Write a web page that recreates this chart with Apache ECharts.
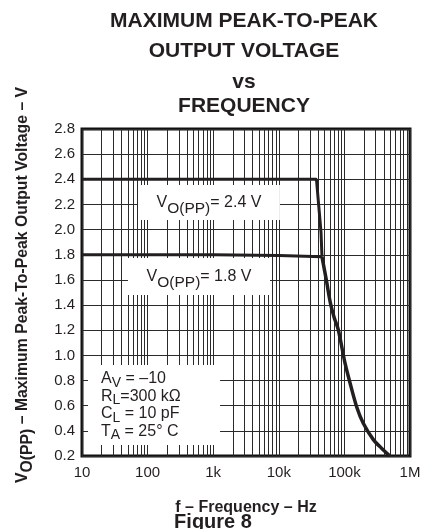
<!DOCTYPE html>
<html><head><meta charset="utf-8">
<script src="https://cdn.jsdelivr.net/npm/echarts/dist/echarts.min.js"></script>
<style>html,body{margin:0;padding:0;background:#fff}#c{width:422px;height:529px}</style>
</head><body><div id="c"></div>
<script>
const titleLines = ['MAXIMUM PEAK-TO-PEAK', 'OUTPUT VOLTAGE', 'vs', 'FREQUENCY'];
const figureLabel = 'Figure 8';
const xTickValues = [10, 100, 1000, 10000, 100000, 1000000];
const xTickLabels = ['10', '100', '1k', '10k', '100k', '1M'];
const upperFreq = [10, 37500, 44000, 45500];
const upperVolt = [2.4, 2.4, 1.98, 1.785];
const lowerFreq = [10, 1000, 10000, 45500];
const lowerVolt = [1.8, 1.8, 1.795, 1.785];
const tailFreq = [45500, 53000, 61000, 70000, 81000, 102000, 122000, 154000, 194000, 276000, 371000, 470000, 490000];
const tailVolt = [1.785, 1.6, 1.42, 1.3, 1.2, 0.94, 0.78, 0.59, 0.46, 0.33, 0.26, 0.21, 0.2];

const FF = '"Liberation Sans", Arial, sans-serif';
const INK = '#231f20';
const pairs = (xs, ys) => xs.map((x, i) => [x, ys[i]]);

const minorX = [];
[10, 100, 1000, 10000, 100000].forEach(d => { for (let m = 2; m <= 9; m++) minorX.push(m * d); });

const subRich = (fs, sfs, lh, pad) => ({
  n: { fontSize: fs, lineHeight: lh, color: INK, fontFamily: FF },
  s: { fontSize: sfs, lineHeight: lh, color: INK, fontFamily: FF, padding: [pad, 0, 0, 0] }
});

const chart = echarts.init(document.getElementById('c'), null, { renderer: 'canvas' });
const titleTops = [21, 51, 82, 106];
const option = {
  animation: false,
  backgroundColor: '#fff',
  title: titleLines.map((t, i) => ({
    text: t, left: 244, top: titleTops[i], textAlign: 'center', textVerticalAlign: 'middle', padding: 0,
    textStyle: { fontSize: 21, fontWeight: 'bold', color: INK, fontFamily: FF }
  })).concat([{
    text: figureLabel, left: 213, top: 522, textAlign: 'center', textVerticalAlign: 'middle', padding: 0,
    textStyle: { fontSize: 20, fontWeight: 'bold', color: INK, fontFamily: FF }
  }]),
  grid: { left: 82, right: 12, top: 129, bottom: 73, show: true, borderColor: '#111', borderWidth: 3, backgroundColor: 'transparent', outerBoundsMode: 'none' },
  xAxis: {
    type: 'log', logBase: 10, min: 10, max: 1000000,
    name: 'f – Frequency – Hz', nameLocation: 'middle', nameGap: 44,
    nameTextStyle: { fontSize: 16, fontWeight: 'bold', color: INK, fontFamily: FF },
    axisLine: { show: false }, axisTick: { show: false },
    axisLabel: { fontSize: 15, color: INK, fontFamily: FF, margin: 9,
      formatter: v => { const i = xTickValues.findIndex(t => Math.abs(t - v) / t < 1e-6); return i >= 0 ? xTickLabels[i] : ''; } },
    splitLine: { show: true, lineStyle: { color: '#2a2a2a', width: 1 } },
    minorSplitLine: { show: false }
  },
  yAxis: {
    type: 'value', min: 0.2, max: 2.8, interval: 0.2,
    axisLine: { show: false }, axisTick: { show: false },
    axisLabel: { fontSize: 15, color: INK, fontFamily: FF, margin: 7, formatter: v => v.toFixed(1) },
    splitLine: { show: true, lineStyle: { color: '#2a2a2a', width: 1 } }
  },
  graphic: [{
    type: 'text', x: 23, y: 285, rotation: Math.PI / 2,
    style: {
      text: '{n|V}{s|O(PP)}{n| – Maximum Peak-To-Peak Output Voltage – V}',
      align: 'center', verticalAlign: 'middle',
      rich: {
        n: { fontSize: 15.8, fontWeight: 'bold', fill: INK, fontFamily: FF, lineHeight: 17 },
        s: { fontSize: 15.8, fontWeight: 'bold', fill: INK, fontFamily: FF, lineHeight: 17, padding: [10, 0, 0, 0] }
      }
    }
  }],
  series: [
    {
      type: 'line', z: 3, data: pairs(lowerFreq, lowerVolt), symbol: 'none',
      lineStyle: { color: INK, width: 3 }, silent: true,
      markLine: {
        z: 1, silent: true, symbol: ['none', 'none'], animation: false,
        label: { show: false }, emphasis: { disabled: true },
        lineStyle: { color: '#2a2a2a', width: 1, type: 'solid' },
        data: minorX.map(v => ({ xAxis: v }))
      },
      markArea: {
        z: 2, silent: true, animation: false,
        itemStyle: { color: '#fff', borderWidth: 0, opacity: 1 },
        emphasis: { disabled: true },
        data: [
          [{ xAxis: 71.5, yAxis: 2.355, label: { show: true, position: 'inside', formatter: '{n|V}{s|O(PP)}{n|= 2.4 V}', rich: subRich(16, 15.5, 17, 12) } },
           { xAxis: 10400, yAxis: 2.076 }],
          [{ xAxis: 50.2, yAxis: 1.774, label: { show: true, position: 'inside', formatter: '{n|V}{s|O(PP)}{n|= 1.8 V}', rich: subRich(16, 15.5, 17, 12) } },
           { xAxis: 7350, yAxis: 1.48 }],
          [{ xAxis: 12.35, yAxis: 0.924, label: { show: true, position: 'insideLeft', distance: 13,
              formatter: '{n|A}{t|V}{n| = –10}\n{n|R}{t|L}{n|=300 kΩ}\n{n|C}{t|L}{n| = 10 pF}\n{n|T}{t|A}{n| = 25° C}',
              rich: {
                n: { fontSize: 16, lineHeight: 17.5, color: INK, fontFamily: FF },
                t: { fontSize: 14, lineHeight: 9.5, color: INK, fontFamily: FF, padding: [8, 0, 0, 0] }
              } } },
           { xAxis: 1271, yAxis: 0.287 }]
        ]
      }
    },
    { type: 'line', z: 3, data: pairs(upperFreq, upperVolt), symbol: 'none', lineStyle: { color: INK, width: 3 }, silent: true },
    { type: 'line', z: 3, data: pairs(tailFreq, tailVolt), symbol: 'none', smooth: 0.3, lineStyle: { color: INK, width: 3.5 }, silent: true }
  ]
};
chart.setOption(option);
</script>
</body></html>
